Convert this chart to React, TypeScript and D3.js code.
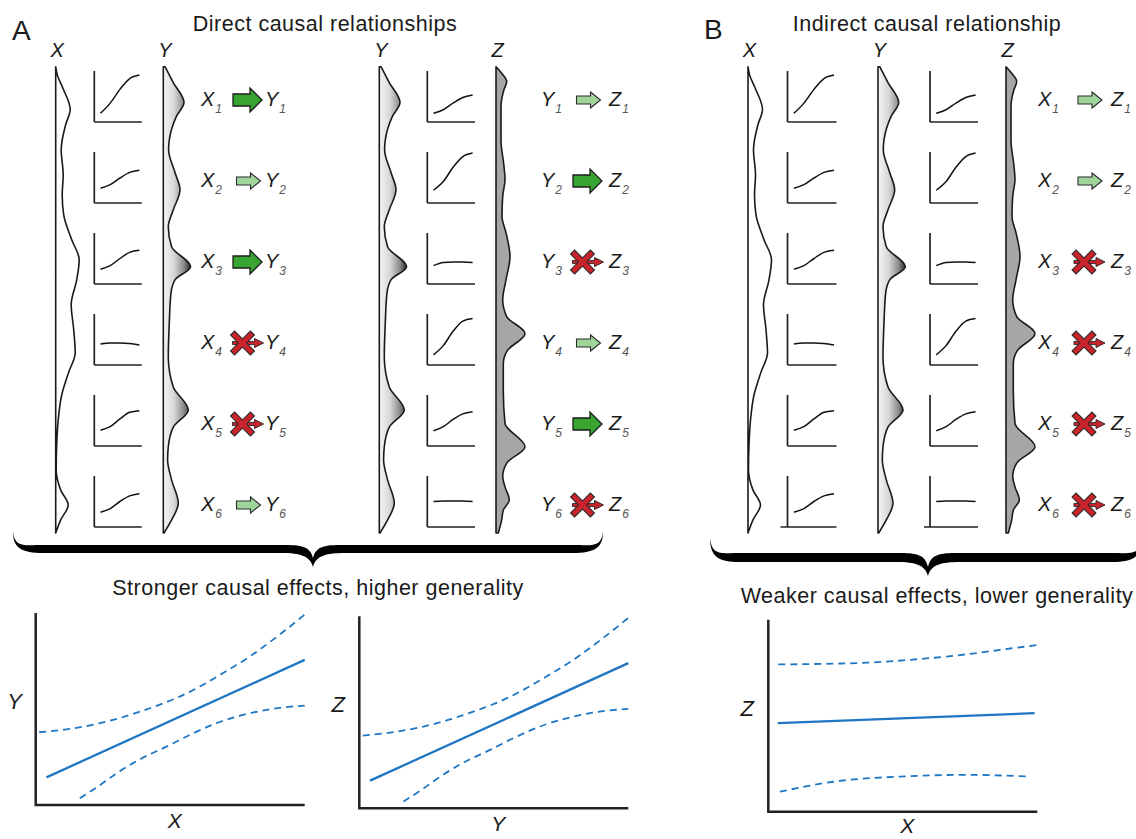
import React from 'react';
import * as d3 from 'd3';

type Effect = 'strong' | 'weak' | 'none';
type Pt = [number, number];

const W = 1136, H = 839;
const FONT = '"Liberation Sans", Arial, sans-serif';
const INK = '#1a1a1a';

const rows = [1, 2, 3, 4, 5, 6];

// density outlines of each variable: [position along strip (%), width]
const xDensity: Pt[] = [
  [0, 0], [1.7, 1.5], [4.5, 7], [9.2, 14.5], [12.4, 10], [17.8, 5.5], [23.2, 7.5], [27.5, 6.5],
  [31.8, 8], [37.1, 16], [41.4, 23.5], [45.7, 21], [51, 15.5], [56.4, 18], [61.4, 19.5],
  [65.5, 13], [70.4, 6], [75.8, 2.5], [81.1, 1], [86.5, 0.5], [90.8, 5], [94, 12.5], [97.2, 5], [100, 0],
];
const yDensity: Pt[] = [
  [0, 1.7], [3.4, 10], [7.7, 20.7], [10.7, 13], [15.7, 6], [17.8, 5.3], [22.7, 11.7], [26.4, 16.7],
  [30.7, 10], [34.3, 5], [38.6, 8.3], [42.9, 27.3], [45.7, 11.7], [48.5, 7.7], [54.9, 6], [62.2, 5],
  [68.7, 10], [73.6, 25], [77.3, 10], [81.5, 5], [84.3, 4.3], [88.6, 8.3], [93.6, 15], [97.2, 8.3], [100, 0.7],
];
const zDensity: Pt[] = [
  [0, 0], [1.4, 5.7], [3.2, 10.7], [4.9, 8], [8.5, 5], [15.7, 5], [21.4, 8], [24.2, 9], [27.8, 6.7],
  [32.1, 6], [35.6, 10], [40.7, 14], [45.7, 10], [50, 6.7], [53.6, 10.7], [57.2, 29], [60.9, 11.3],
  [63.7, 7.3], [69.5, 7.3], [76.5, 9], [81.5, 29], [85, 10.7], [87.9, 6.7], [90.1, 9], [92.9, 13.3],
  [95.1, 7.3], [97.2, 5.7], [100, 2.3],
];

// response curves in the small panels (fraction of panel height) at curveT
const curveT = [0.13, 0.335, 0.54, 0.745, 0.95];
const xyCurves = [
  [0.17, 0.37, 0.64, 0.85, 0.92],
  [0.29, 0.36, 0.49, 0.6, 0.64],
  [0.29, 0.36, 0.5, 0.62, 0.66],
  [0.41, 0.43, 0.43, 0.42, 0.39],
  [0.31, 0.38, 0.53, 0.66, 0.69],
  [0.29, 0.36, 0.5, 0.61, 0.65],
];
const yzCurves = [
  [0.17, 0.24, 0.37, 0.48, 0.53],
  [0.25, 0.42, 0.7, 0.91, 0.98],
  [0.36, 0.42, 0.43, 0.43, 0.42],
  [0.2, 0.38, 0.66, 0.86, 0.91],
  [0.3, 0.38, 0.52, 0.63, 0.67],
  [0.5, 0.51, 0.51, 0.51, 0.5],
];

const xyEffects: Effect[] = ['strong', 'weak', 'strong', 'none', 'none', 'weak'];
const yzEffects: Effect[] = ['weak', 'strong', 'none', 'weak', 'strong', 'none'];
const xzEffects: Effect[] = ['weak', 'weak', 'none', 'none', 'none', 'none'];

// regression fits with confidence bands
const fitStrong: Pt[] = [[0.4, 1.44], [10, 7.56]];
const upperStrong: Pt[] = [
  [0.13, 3.79], [1.2, 3.95], [2.39, 4.26], [3.3, 4.6], [4.24, 5.04], [5.2, 5.55],
  [6.1, 6.17], [7, 6.9], [7.96, 7.74], [9, 8.8], [10, 9.92],
];
const lowerStrong: Pt[] = [
  [1.64, 0.35], [2.3, 0.95], [3.01, 1.65], [3.9, 2.4], [4.86, 3.04], [5.8, 3.7],
  [6.72, 4.26], [7.6, 4.65], [8.58, 4.96], [10, 5.18],
];
const fitWeak: Pt[] = [[0.35, 4.61], [9.9, 5.13]];
const upperWeak: Pt[] = [[0.37, 7.67], [2, 7.7], [3.65, 7.76], [5, 7.88], [7.38, 8.2], [9, 8.5], [10.1, 8.7]];
const lowerWeak: Pt[] = [[0.43, 1.04], [2.41, 1.56], [4.9, 1.83], [7.38, 1.92], [9.7, 1.83]];

const stripY = d3.scaleLinear().domain([0, 100]).range([66.7, 533]);
const rowY = d3.scalePoint<number>().domain(rows).range([99, 504]);
const widthScale = d3.scaleLinear().domain([0, 30]).range([0, 30]);

const Strip = ({ x, data, fill }: { x: number; data: Pt[]; fill: string }) => {
  const area = d3.area<Pt>()
    .y(d => stripY(d[0]))
    .x0(x)
    .x1(d => x + widthScale(d[1]))
    .curve(d3.curveMonotoneY);
  return <path d={area(data) || ''} fill={fill} stroke={INK} strokeWidth={1.6} strokeLinejoin="round" />;
};

const SmallPlot = ({ x, w, r, values, overhang = 0 }: { x: number; w: number; r: number; values: number[]; overhang?: number }) => {
  const top = rowY(r)! - 28, bottom = rowY(r)! + 23;
  const sx = d3.scaleLinear().domain([0, 1]).range([x, x + w]);
  const sy = d3.scaleLinear().domain([0, 1]).range([bottom, top]);
  const line = d3.line<number>().x((_, i) => sx(curveT[i])).y(d => sy(d)).curve(d3.curveMonotoneX);
  return (
    <g>
      <path d={`M${x},${top}V${bottom}M${x - overhang},${bottom}H${x + w}`} fill="none" stroke="#222" strokeWidth={1.7} />
      <path d={line(values) || ''} fill="none" stroke="#111" strokeWidth={1.5} />
    </g>
  );
};

const blockArrow = (cx: number, cy: number, len: number, shaft: number, head: number, headLen: number) => {
  const x0 = cx - len / 2, x1 = cx + len / 2, xh = x1 - headLen;
  return `M${x0},${cy - shaft}L${xh},${cy - shaft}L${xh},${cy - head}L${x1},${cy}L${xh},${cy + head}L${xh},${cy + shaft}L${x0},${cy + shaft}Z`;
};

const EffectArrow = ({ cx, cy, effect }: { cx: number; cy: number; effect: Effect }) => {
  if (effect === 'strong') {
    return <path d={blockArrow(cx, cy, 29, 6, 12, 12)} fill="#38a532" stroke="#1c1c1c" strokeWidth={1.3} />;
  }
  if (effect === 'weak') {
    return <path d={blockArrow(cx + 1, cy, 24, 4, 8, 10)} fill="#9fd59b" stroke="#2a2a2a" strokeWidth={1.1} />;
  }
  const xc = cx - 5, s = 9.5, so = 10.3;
  return (
    <g>
      <path d={blockArrow(cx + 0.5, cy, 31, 1.6, 4.5, 9)} fill="#c9242b" stroke="#222" strokeWidth={0.9} />
      <path d={`M${xc - so},${cy - so}L${xc + so},${cy + so}M${xc - so},${cy + so}L${xc + so},${cy - so}`}
        stroke="#2a2a2a" strokeWidth={6.8} fill="none" />
      <path d={`M${xc - s},${cy - s}L${xc + s},${cy + s}M${xc - s},${cy + s}L${xc + s},${cy - s}`}
        stroke="#c9242b" strokeWidth={4.6} fill="none" />
    </g>
  );
};

const Var = ({ x, y, name, sub }: { x: number; y: number; name: string; sub: number }) => (
  <text x={x} y={y} fontFamily={FONT} fontStyle="italic" fontSize={20} fill={INK}>
    {name}
    <tspan fontSize={12} dx={1} dy={7} fill="#555">{sub}</tspan>
  </text>
);

const EffectRows = ({ from, to, effects, xFrom, xArrow, xTo }: { from: string; to: string; effects: Effect[]; xFrom: number; xArrow: number; xTo: number }) => (
  <g>
    {rows.map((r, i) => (
      <g key={r}>
        <Var x={xFrom} y={rowY(r)! + 6.5} name={from} sub={r} />
        <EffectArrow cx={xArrow} cy={rowY(r)! + 1} effect={effects[i]} />
        <Var x={xTo} y={rowY(r)! + 6.5} name={to} sub={r} />
      </g>
    ))}
  </g>
);

const ColLabel = ({ x, label }: { x: number; label: string }) => (
  <text x={x + 1.5} y={57} textAnchor="middle" fontFamily={FONT} fontStyle="italic" fontSize={20} fill={INK}>{label}</text>
);

const bracePath = (x0: number, x1: number, yEnd: number, yTop: number, yBot: number, xt: number, yt: number) => {
  const r = 30;
  return [
    `M${x0},${yEnd}`,
    `C${x0},${yBot - 5} ${x0 + 9},${yBot} ${x0 + r},${yBot}`,
    `L${xt - 32},${yBot}`,
    `C${xt - 12},${yBot} ${xt - 3},${yBot + 3} ${xt},${yt}`,
    `C${xt + 3},${yBot + 3} ${xt + 12},${yBot} ${xt + 32},${yBot}`,
    `L${x1 - r},${yBot}`,
    `C${x1 - 9},${yBot} ${x1},${yBot - 5} ${x1},${yEnd}`,
    `C${x1 - 2},${yTop + 3} ${x1 - 11},${yTop} ${x1 - r},${yTop}`,
    `L${xt + 30},${yTop}`,
    `C${xt + 12},${yTop} ${xt + 3},${yTop + 1} ${xt},${yt - 9}`,
    `C${xt - 3},${yTop + 1} ${xt - 12},${yTop} ${xt - 30},${yTop}`,
    `L${x0 + r},${yTop}`,
    `C${x0 + 11},${yTop} ${x0 + 2},${yTop + 3} ${x0},${yEnd}`,
    'Z',
  ].join('');
};

const FitPlot = ({ x0, y0, fit, upper, lower, xLabel, yLabel }: { x0: number; y0: number; fit: Pt[]; upper: Pt[]; lower: Pt[]; xLabel: string; yLabel: string }) => {
  const pw = 269, ph = 192;
  const sx = d3.scaleLinear().domain([0, 10]).range([x0, x0 + pw]);
  const sy = d3.scaleLinear().domain([0, 10]).range([y0, y0 - ph]);
  const band = d3.line<Pt>().x(d => sx(d[0])).y(d => sy(d[1])).curve(d3.curveMonotoneX);
  const straight = d3.line<Pt>().x(d => sx(d[0])).y(d => sy(d[1]));
  const blue = '#1f76c2';
  return (
    <g>
      <path d={straight(fit) || ''} fill="none" stroke={blue} strokeWidth={2.3} />
      <path d={band(upper) || ''} fill="none" stroke={blue} strokeWidth={1.8} strokeDasharray="7 5" />
      <path d={band(lower) || ''} fill="none" stroke={blue} strokeWidth={1.8} strokeDasharray="7 5" />
      <path d={`M${x0},${y0 - ph}V${y0}H${x0 + pw}`} fill="none" stroke="#222" strokeWidth={2.5} />
      <text x={x0 - 21} y={y0 - 96} textAnchor="middle" fontFamily={FONT} fontStyle="italic" fontSize={22} fill={INK}>{yLabel}</text>
      <text x={x0 + 139} y={Math.min(y0 + 23, H - 6)} textAnchor="middle" fontFamily={FONT} fontStyle="italic" fontSize={21} fill={INK}>{xLabel}</text>
    </g>
  );
};

const heading = { fontFamily: FONT, fontSize: 21.5, letterSpacing: 0.5, fill: INK } as const;

export default function App() {
  return (
    <svg width={W} height={H} style={{ position: 'absolute', left: 0, top: 0, background: '#fff' }}>
      <defs>
        <linearGradient id="ygrad" x1="0" x2="1" y1="0" y2="0">
          <stop offset="0" stopColor="#f6f6f6" />
          <stop offset="0.4" stopColor="#d6d6d6" />
          <stop offset="0.75" stopColor="#8c8c8c" />
          <stop offset="1" stopColor="#2a2a2a" />
        </linearGradient>
      </defs>
      <rect width={W} height={H} fill="#fff" />

      {/* panel A */}
      <text x={12} y={40} fontFamily={FONT} fontSize={28} fill={INK}>A</text>
      <text x={325} y={30.5} textAnchor="middle" {...heading}>Direct causal relationships</text>
      <ColLabel x={55.7} label="X" />
      <ColLabel x={163.3} label="Y" />
      <ColLabel x={379.3} label="Y" />
      <ColLabel x={496} label="Z" />
      <Strip x={55.7} data={xDensity} fill="#fff" />
      <Strip x={163.3} data={yDensity} fill="url(#ygrad)" />
      <Strip x={379.3} data={yDensity} fill="url(#ygrad)" />
      <Strip x={496} data={zDensity} fill="#a6a6a6" />
      {rows.map((r, i) => <SmallPlot key={`a1${r}`} x={94.3} w={47.5} r={r} values={xyCurves[i]} />)}
      {rows.map((r, i) => <SmallPlot key={`a2${r}`} x={427.3} w={47.7} r={r} values={yzCurves[i]} />)}
      <EffectRows from="X" to="Y" effects={xyEffects} xFrom={201} xArrow={247.5} xTo={265} />
      <EffectRows from="Y" to="Z" effects={yzEffects} xFrom={541} xArrow={587.5} xTo={609} />
      <path d={bracePath(13, 603, 532, 545, 553, 313, 567)} fill="#000" />
      <text x={318} y={595} textAnchor="middle" {...heading}>Stronger causal effects, higher generality</text>
      <FitPlot x0={35.7} y0={805} fit={fitStrong} upper={upperStrong} lower={lowerStrong} xLabel="X" yLabel="Y" />
      <FitPlot x0={359.3} y0={808.3} fit={fitStrong} upper={upperStrong} lower={lowerStrong} xLabel="Y" yLabel="Z" />

      {/* panel B */}
      <text x={704} y={39} fontFamily={FONT} fontSize={28} fill={INK}>B</text>
      <text x={927} y={30.5} textAnchor="middle" {...heading}>Indirect causal relationship</text>
      <ColLabel x={748} label="X" />
      <ColLabel x={878} label="Y" />
      <ColLabel x={1006} label="Z" />
      <Strip x={748} data={xDensity} fill="#fff" />
      <Strip x={878} data={yDensity} fill="url(#ygrad)" />
      <Strip x={1006} data={zDensity} fill="#a6a6a6" />
      {rows.map((r, i) => <SmallPlot key={`b1${r}`} x={787.5} w={49} r={r} values={xyCurves[i]} overhang={r === 6 ? 7 : 0} />)}
      {rows.map((r, i) => <SmallPlot key={`b2${r}`} x={930} w={48} r={r} values={yzCurves[i]} overhang={r === 6 ? 6 : 0} />)}
      <EffectRows from="X" to="Z" effects={xzEffects} xFrom={1038} xArrow={1089} xTo={1111} />
      <path d={bracePath(710, 1142, 538, 553, 562, 928, 576)} fill="#000" />
      <text x={937} y={602.7} textAnchor="middle" {...heading}>Weaker causal effects, lower generality</text>
      <FitPlot x0={768.3} y0={811.7} fit={fitWeak} upper={upperWeak} lower={lowerWeak} xLabel="X" yLabel="Z" />
    </svg>
  );
}
